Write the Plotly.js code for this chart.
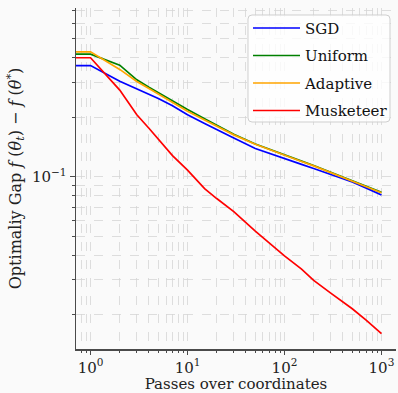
<!DOCTYPE html>
<html>
<head>
<meta charset="utf-8">
<script src="https://cdn.plot.ly/plotly-3.0.1.min.js"></script>
<style>html,body{margin:0;padding:0;background:#fafafa;}#chart{width:398px;height:393px;}</style>
</head>
<body>
<div id="chart"></div>
<script>
const passes    = [0.5, 1, 2, 3, 4, 5, 7, 10, 15, 20, 30, 50, 70, 100, 150, 200, 300, 500, 700, 1000];
const sgd       = [0.366, 0.366, 0.305, 0.279, 0.262, 0.249, 0.229, 0.206, 0.186, 0.173, 0.157, 0.139, 0.131, 0.123, 0.1155, 0.110, 0.103, 0.094, 0.0875, 0.0807];
const uniform   = [0.418, 0.418, 0.368, 0.310, 0.284, 0.266, 0.241, 0.219, 0.197, 0.183, 0.164, 0.1465, 0.1375, 0.1285, 0.120, 0.114, 0.1055, 0.096, 0.0893, 0.0833];
const adaptive  = [0.430, 0.430, 0.350, 0.304, 0.280, 0.262, 0.238, 0.215, 0.194, 0.180, 0.163, 0.146, 0.137, 0.128, 0.1195, 0.1135, 0.105, 0.0955, 0.089, 0.0829];
const musketeer = [0.401, 0.401, 0.275, 0.206, 0.176, 0.155, 0.128, 0.108, 0.087, 0.0775, 0.0665, 0.053, 0.046, 0.0397, 0.034, 0.0298, 0.0257, 0.0214, 0.0187, 0.016];

const seriesNames  = ["SGD", "Uniform", "Adaptive", "Musketeer"];
const seriesValues = [sgd, uniform, adaptive, musketeer];
const seriesColors = ["#0000ff", "#008000", "#ffa500", "#ff0000"];

const xTickVals = [1, 10, 100, 1000];
const xTickText = ["10<sup>0</sup>", "10<sup>1</sup>", "10<sup>2</sup>", "10<sup>3</sup>"];
const xMinorVals = [0.8, 0.9, 2, 3, 4, 5, 6, 7, 8, 9, 20, 30, 40, 50, 60, 70, 80, 90, 200, 300, 400, 500, 600, 700, 800, 900];
const yTickVals = [0.1];
const yTickText = ["10<sup>−1</sup>"];
const yMinorVals = [0.02, 0.03, 0.04, 0.05, 0.06, 0.07, 0.08, 0.09, 0.2, 0.3, 0.4, 0.5, 0.6, 0.7];

const FONT = "'DejaVu Serif', serif";
const gridC = "#d6d6d6";
const axC = "#4a4a4a";

const traces = seriesNames.map((n, i) => ({
  type: "scatter", mode: "lines", name: n, legendgroup: n,
  x: passes, y: seriesValues[i],
  line: {color: seriesColors[i], width: 1.7}
}));

// rounded legend frame (paper coords)
const bx0 = 0.5375, bx1 = 0.98125, by0 = 0.6657, by1 = 0.9795, rx = 0.0125, ry = 0.0117;
const framePath = `M ${bx0+rx},${by1} L ${bx1-rx},${by1} Q ${bx1},${by1} ${bx1},${by1-ry} ` +
  `L ${bx1},${by0+ry} Q ${bx1},${by0} ${bx1-rx},${by0} L ${bx0+rx},${by0} Q ${bx0},${by0} ${bx0},${by0+ry} ` +
  `L ${bx0},${by1-ry} Q ${bx0},${by1} ${bx0+rx},${by1} Z`;

const layout = {
  width: 398, height: 393,
  margin: {l: 76, r: 2, t: 8, b: 44},
  paper_bgcolor: "#fafafa", plot_bgcolor: "#fafafa",
  font: {family: FONT, size: 15, color: "#222"},
  showlegend: true,
  legend: {x: 0.5375, y: 0.989, xanchor: "left", yanchor: "top",
           bgcolor: "rgba(0,0,0,0)", borderwidth: 0, itemwidth: 47, tracegroupgap: 5,
           font: {family: FONT, size: 15, color: "#111"}},
  shapes: [{type: "path", xref: "paper", yref: "paper", path: framePath,
            fillcolor: "rgba(255,255,255,0.8)", line: {color: "#cfcfcf", width: 1}, layer: "above"}],
  xaxis: {type: "log", range: [-0.15, 3.15], tickvals: xTickVals, ticktext: xTickText,
          ticks: "outside", ticklen: 4, tickcolor: axC, tickwidth: 1,
          showline: true, linecolor: axC, linewidth: 1.5, zeroline: false,
          showgrid: true, gridcolor: gridC, griddash: "dash", gridwidth: 0.8,
          minor: {tickvals: xMinorVals, ticks: "outside", ticklen: 2, tickcolor: axC,
                  showgrid: true, gridcolor: gridC, griddash: "dash", gridwidth: 0.8},
          tickfont: {family: FONT, size: 15},
          title: {text: "Passes over coordinates", font: {family: FONT, size: 15}, standoff: 4}},
  yaxis: {type: "log", range: [-1.8737, -0.1445], tickvals: yTickVals, ticktext: yTickText,
          ticks: "outside", ticklen: 5, tickcolor: axC, tickwidth: 1,
          showline: true, linecolor: axC, linewidth: 1.5, zeroline: false,
          showgrid: true, gridcolor: gridC, griddash: "dash", gridwidth: 0.8,
          minor: {tickvals: yMinorVals, ticks: "outside", ticklen: 3, tickcolor: axC,
                  showgrid: true, gridcolor: gridC, griddash: "dash", gridwidth: 0.8},
          tickfont: {family: FONT, size: 15},
          title: {text: "Optimaliy Gap <i>f</i> (<i>θ<sub>t</sub></i>) − <i>f</i> (<i>θ</i><sup>*</sup>)",
                  font: {family: FONT, size: 16}, standoff: 6}}
};

Plotly.newPlot("chart", traces, layout, {displayModeBar: false, staticPlot: true});
</script>
</body>
</html>
